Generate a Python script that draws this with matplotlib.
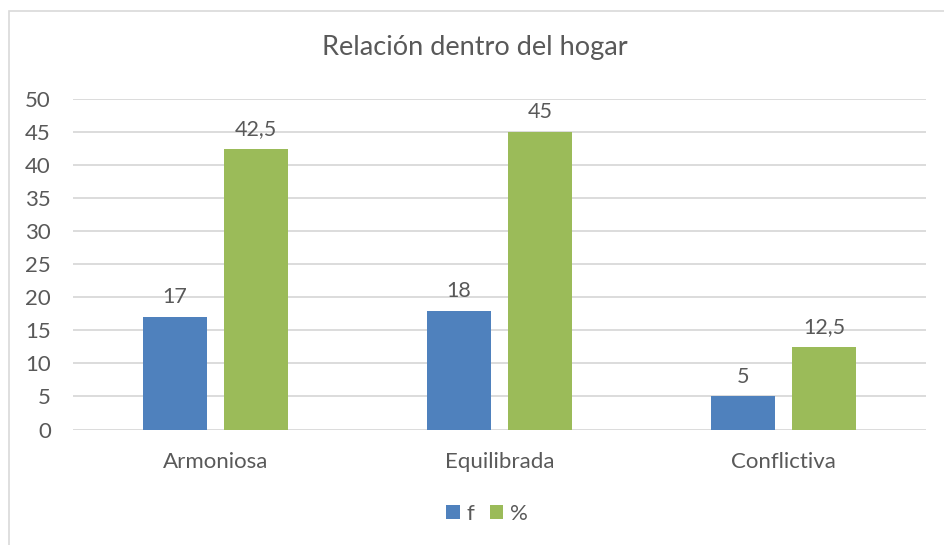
import numpy as np
import matplotlib.pyplot as plt
from matplotlib.patches import Rectangle

categories = ['Armoniosa', 'Equilibrada', 'Conflictiva']
f_values = [17, 18, 5]
pct_values = [42.5, 45, 12.5]
f_labels = ['17', '18', '5']
pct_labels = ['42,5', '45', '12,5']

plt.rcParams['font.family'] = ['Lato', 'DejaVu Sans']
text_color = '#595959'

fig = plt.figure(figsize=(9.44, 5.45), dpi=100)
W, H = 944, 545
ax = fig.add_axes([73 / W, 1 - 429.5 / H, (926 - 73) / W, (429.5 - 99) / H])

# outer chart border (right/bottom edges fall outside the crop)
fig.patches.append(Rectangle((8.5 / W, -0.1), 1.2, 1.1 - 10.5 / H,
                             transform=fig.transFigure, fill=False,
                             edgecolor='#D9D9D9', linewidth=1.2))

x = np.arange(len(categories))
w = 0.225
off = 0.1425
b1 = ax.bar(x - off, f_values, w, color='#4F81BD', label='f', zorder=3)
b2 = ax.bar(x + off, pct_values, w, color='#9BBB59', label='%', zorder=3)

for bars, labs in ((b1, f_labels), (b2, pct_labels)):
    for rect, lab in zip(bars, labs):
        ax.annotate(lab, (rect.get_x() + rect.get_width() / 2, rect.get_height()),
                    xytext=(0, 7), textcoords='offset points', ha='center',
                    va='bottom', fontsize=15.5, color=text_color)

ax.set_xlim(-0.5, 2.5)
ax.set_ylim(0, 50)
ax.set_yticks(range(0, 51, 5))
ax.yaxis.grid(True, color='#D9D9D9', linewidth=1.3, zorder=0)
ax.set_axisbelow(True)
for s in ax.spines.values():
    s.set_visible(False)
ax.tick_params(axis='both', length=0, labelsize=16, labelcolor=text_color)
ax.tick_params(axis='y', pad=16)
ax.tick_params(axis='x', pad=16)
ax.set_xticks(x)
ax.set_xticklabels(categories)

fig.text(475 / W, 1 - 47 / H, 'Relación dentro del hogar', ha='center',
         va='center', fontsize=19.5, color=text_color)

fig.legend(loc='center', bbox_to_anchor=(487 / W, 1 - 514 / H), ncol=2,
           frameon=False, fontsize=16, handlelength=0.62, handleheight=0.62,
           handletextpad=0.3, columnspacing=0.7, labelcolor=text_color)

fig.savefig('out.png', dpi=100)
